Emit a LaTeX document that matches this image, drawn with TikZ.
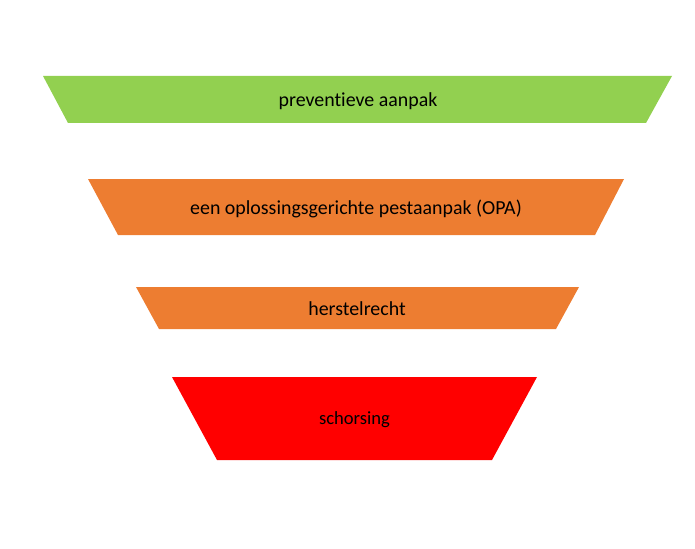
\documentclass[tikz,border=0pt]{standalone}
\usepackage{fontspec}
\setmainfont{Carlito}[Ligatures=NoCommon]
\definecolor{lvlgreen}{HTML}{92D050}
\definecolor{lvlorange}{HTML}{ED7D31}
\definecolor{lvlred}{HTML}{FF0000}
\begin{document}
\begin{tikzpicture}[x=1pt,y=-1pt,
  lbl/.style={font=\fontsize{19.9}{23}\selectfont, text=black, inner sep=0pt}]
\useasboundingbox (0,0) rectangle (695,548);
\fill[lvlgreen] (43,76) -- (672,76) -- (646,123) -- (68,123) -- cycle;
\fill[lvlorange] (88,179) -- (624,179) -- (595,235) -- (118,235) -- cycle;
\fill[lvlorange] (136,287) -- (579,287) -- (556,329) -- (159,329) -- cycle;
\fill[lvlred] (172,377) -- (537,377) -- (492,460) -- (217,460) -- cycle;
\node[lbl] (t1) at (358,101.5) {preventieve aanpak};
\node[lbl] (t2) at (356,209) {een oplossingsgerichte pestaanpak (OPA)};
\node[lbl] (t3) at (357,309) {herstelrecht};
\node[lbl, font=\fontsize{18.6}{22}\selectfont] (t4) at (354.5,419.5) {schorsing};
\end{tikzpicture}
\end{document}
